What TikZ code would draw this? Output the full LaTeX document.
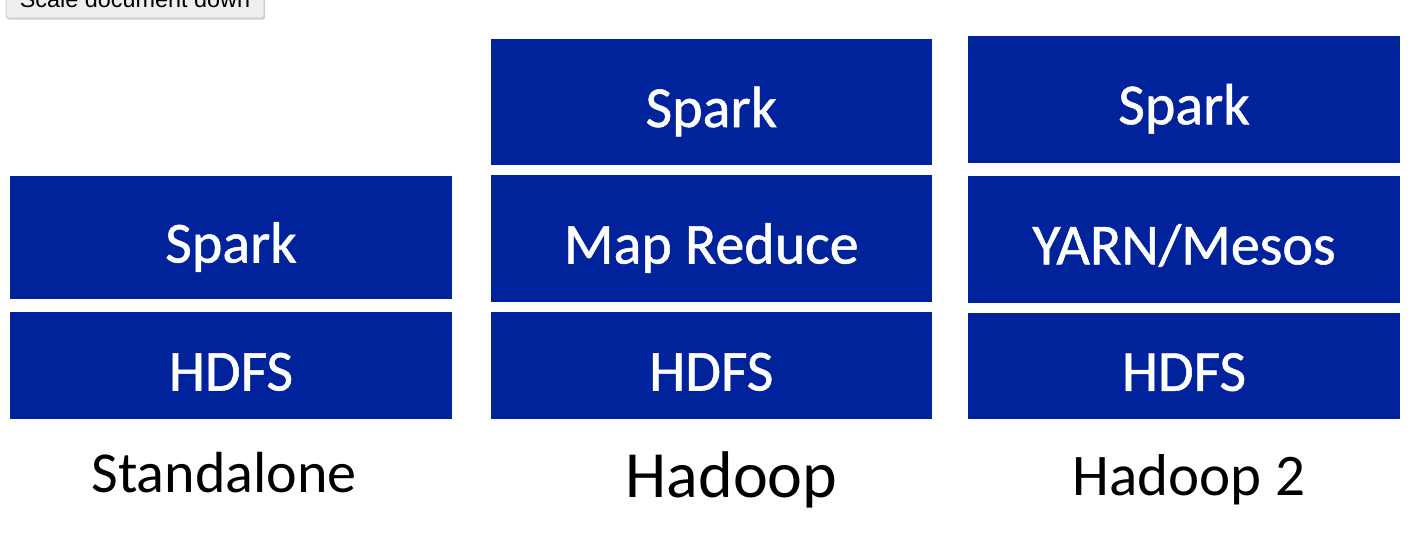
\documentclass[tikz,border=0pt]{standalone}
\usepackage{fontspec}
\setmainfont{Carlito}
\newfontfamily\boxfont[FakeBold=0.9]{Carlito}
\newfontfamily\btnfont{Liberation Sans}
\definecolor{boxblue}{RGB}{0,35,156}
\definecolor{btnfill}{RGB}{239,239,239}
\definecolor{btnline}{RGB}{200,200,200}
\begin{document}
\begin{tikzpicture}[x=1pt,y=-1pt,
  layer/.style={fill=boxblue, draw=none, inner sep=0pt, text=white,
    text height=50pt, text depth=0pt,
    font=\boxfont\fontsize{58}{60}\selectfont},
  caption/.style={anchor=base, inner sep=0pt, text=black}]
\useasboundingbox (0,0) rectangle (1420,536);
% button at top-left (cut off)
\fill[black!18, rounded corners=2pt] (7,-20) rectangle (265,19.5);
\node[fill=btnfill, draw=btnline, line width=0.8pt, rounded corners=2pt,
  minimum width=258pt, minimum height=38pt, inner sep=0pt,
  text height=16pt, text depth=0pt,
  font=\btnfont\fontsize{23.4}{25}\selectfont] (btn) at (135,-1) {Scale document down};
% Standalone
\node[layer, minimum width=442pt, minimum height=123pt] (s1) at (231,237.5) {Spark};
\node[layer, minimum width=442pt, minimum height=107pt] (h1) at (231,365.5) {HDFS};
% Hadoop
\node[layer, minimum width=441.3pt, minimum height=126.6pt] (s2) at (711.3,102) {Spark};
\node[layer, minimum width=441.3pt, minimum height=127pt] (m2) at (711.3,238.5) {Map Reduce};
\node[layer, minimum width=441.3pt, minimum height=107pt] (h2) at (711.3,365.5) {HDFS};
% Hadoop 2
\node[layer, minimum width=432pt, minimum height=126.5pt] (s3) at (1184,99.25) {Spark};
\node[layer, minimum width=432pt, minimum height=126.7pt] (y3) at (1184,239.3) {YARN/Mesos};
\node[layer, minimum width=432pt, minimum height=106.3pt] (h3) at (1184,365.8) {HDFS};
% captions
\node[caption, font=\fontsize{58}{60}\selectfont] (lab1) at (224,492) {Standalone};
\node[caption, font=\fontsize{66}{68}\selectfont] (lab2) at (731.5,497) {Hadoop};
\node[caption, font=\fontsize{59}{61}\selectfont] (lab3) at (1189,495) {Hadoop 2};
\end{tikzpicture}
\end{document}
